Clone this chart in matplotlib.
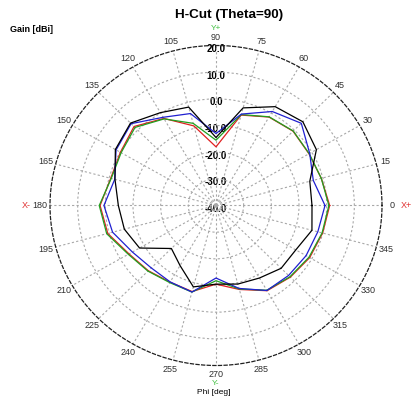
import numpy as np
import matplotlib.pyplot as plt

# H-plane cut, gain in dBi every 15 deg of phi
phi_deg = np.arange(0, 360, 15)
gain_black = [-5.3, -4.9, 1.9, 4.4, 2.8, -2.1, -14.5, -1.8, 0.2, 3.7, 2.0, -2.2,
              -4.7, -5.7, -8.1, -17.2, -14.0, -8.4, -10.5, -9.5, -8.6, -6.7, -6.7, -4.1]
gain_blue = [-0.6, -3.6, -0.9, 3.6, 0.7, -4.5, -13.0, -4.3, -1.8, 3.4, 1.7, -2.1,
             0.5, -1.3, -5.1, -6.9, -6.9, -6.4, -12.8, -7.8, -3.2, -2.9, -2.4, -1.9]
gain_red = [1.1, -0.6, -1.2, -0.6, -1.7, -4.9, -18.0, -9.1, -2.3, 1.9, -0.1, -0.6,
            1.9, 0.5, -3.7, -5.4, -6.8, -6.6, -10.5, -7.4, -3.1, -2.0, -0.9, -0.1]
gain_green = [0.8, -0.6, -1.1, -0.5, -1.6, -4.7, -15.5, -8.1, -2.5, 1.4, -0.4, -0.8,
              2.2, 0.9, -3.4, -5.2, -6.6, -6.4, -11.8, -7.6, -3.3, -2.2, -1.2, -0.3]

r_min, r_max = -40, 20
ring_values = [20, 10, 0, -10, -20, -30, -40]

plt.rcParams['font.family'] = ['Liberation Sans', 'DejaVu Sans']

fig = plt.figure(figsize=(4.14, 4.03), dpi=100)
ax = fig.add_axes([50 / 414, 37.5 / 403, 332 / 414, 320 / 403], projection='polar')
ax.set_aspect('auto')
ax.set_ylim(r_min, r_max)

ax.set_xticks(np.deg2rad(phi_deg))
ax.set_xticklabels([])
ax.set_yticks([-30, -20, -10, 0, 10])
ax.set_yticklabels([])
ax.grid(color='#a8a8a8', linestyle=(0, (2, 2)), linewidth=0.8)
ax.spines['polar'].set_linestyle((0, (2.5, 2)))
ax.spines['polar'].set_linewidth(0.9)
ax.spines['polar'].set_color('#202020')

# radial scale labels along the 90 deg spoke
for v in ring_values:
    ax.annotate('%.1f' % v, xy=(np.pi / 2, v), xytext=(0, -2.5),
                textcoords='offset points', ha='center', va='center',
                fontsize=7, fontweight='bold', zorder=1)

# angle labels outside the rim
for a in phi_deg:
    r_lab = 23.5
    if a == 90:
        r_lab = 23.1
    ax.text(np.deg2rad(a), r_lab, str(a), ha='center', va='center',
            fontsize=6.5, color='#303030', clip_on=False)

ax.text(0, 28.7, 'X+', ha='center', va='center', fontsize=6.5, color='#e03030', clip_on=False)
ax.text(np.pi, 28.7, 'X-', ha='center', va='center', fontsize=6.5, color='#e03030', clip_on=False)
ax.text(np.pi / 2, 26.5, 'Y+', ha='center', va='center', fontsize=6, color='#40c040', clip_on=False)
ax.text(3 * np.pi / 2, 26.6, 'Y-', ha='center', va='center', fontsize=6, color='#40c040', clip_on=False)

theta = np.deg2rad(np.append(phi_deg, 360))
for gains, col in [(gain_red, '#e02020'), (gain_green, '#20a020'),
                   (gain_blue, '#2020d0'), (gain_black, 'black')]:
    ax.plot(theta, np.append(gains, gains[0]), color=col, linewidth=0.9, zorder=3)

fig.text(229.5 / 414, 1 - 15 / 403, 'H-Cut (Theta=90)', ha='center', va='center',
         fontsize=9.7, fontweight='bold')
fig.text(10 / 414, 1 - 29.3 / 403, 'Gain [dBi]', ha='left', va='center',
         fontsize=6.5, fontweight='bold')
fig.text(213.5 / 414, 1 - 392.7 / 403, 'Phi [deg]', ha='center', va='center', fontsize=6)

fig.savefig('out.png', dpi=100)
